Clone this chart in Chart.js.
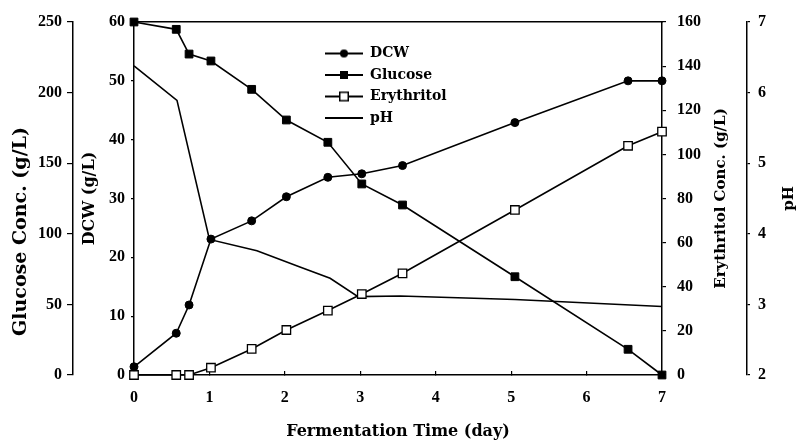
<!DOCTYPE html>
<html>
<head>
<meta charset="utf-8">
<script src="https://cdn.jsdelivr.net/npm/chart.js@4.4.1/dist/chart.umd.min.js"></script>
<style>
  html, body { margin: 0; padding: 0; background: #fff; }
  #wrap { width: 803px; height: 441px; }
</style>
</head>
<body>
<div id="wrap"><canvas id="fermChart"></canvas></div>
<script>
// sampling days and measured values
var days = [0, 0.56, 0.73, 1.02, 1.56, 2.02, 2.57, 3.02, 3.56, 5.05, 6.55, 7.0];
var dcw = [1.4, 7.1, 11.9, 23.1, 26.2, 30.3, 33.6, 34.2, 35.6, 42.9, 50.0, 50.0];
var glucose = [250, 244.8, 227.3, 222.4, 202.3, 180.6, 164.8, 135.3, 120.4, 69.6, 18.2, 0];
var erythritol = [0, 0, 0, 3.3, 11.8, 20.4, 29.2, 36.7, 46.1, 74.8, 103.9, 110.3];
var phDays = [0, 0.57, 1.0, 1.63, 2.2, 2.6, 2.97, 3.53, 5.05, 7.0];
var ph = [6.38, 5.89, 3.92, 3.76, 3.53, 3.37, 3.11, 3.12, 3.07, 2.97];
var seriesNames = ['DCW', 'Glucose', 'Erythritol', 'pH'];

function pairs(xs, ys) {
  var out = [];
  for (var i = 0; i < xs.length; i++) out.push({x: xs[i], y: ys[i]});
  return out;
}

// little legend samples: line with the marker in the middle
function legendIcon(kind) {
  var c = document.createElement('canvas');
  c.width = 38; c.height = 14;
  var g = c.getContext('2d');
  g.fillStyle = '#000';
  g.fillRect(0, 6, 38, 2);
  if (kind == 'circle') {
    g.beginPath(); g.arc(19, 7, 4, 0, Math.PI * 2); g.fill();
  } else if (kind == 'square') {
    g.fillRect(15, 3, 8, 8);
  } else if (kind == 'open') {
    g.fillRect(14, 2, 10, 10);
    g.fillStyle = '#fff';
    g.fillRect(15.5, 3.5, 7, 7);
  }
  return c;
}
var icons = [legendIcon('circle'), legendIcon('square'), legendIcon('open'), legendIcon('none')];

var tickFont = {family: 'Liberation Serif', size: 16, weight: 'bold'};
var titleFamily = 'DejaVu Serif';

// rotated axis titles (read bottom to top on every side)
var sideTitles = [
  {axis: 'yGlu', text: 'Glucose Conc. (g/L)', size: 19, from: 'left', off: 21, dy: 33},
  {axis: 'yEry', text: 'Erythritol Conc. (g/L)', size: 15, from: 'right', off: 26, dy: 0},
  {axis: 'yPh', text: 'pH', size: 15, from: 'right', off: 14, dy: 0}
];

var sideTitlePlugin = {
  id: 'sideTitles',
  afterLayout: function (chart) {
    // put legend inside the plot, upper middle
    var lg = chart.legend;
    var a = chart.chartArea;
    if (lg) {
      lg.left = a.left + 183.5;
      lg.top = a.top + 17;
      lg.right = lg.left + 160;
      lg.bottom = lg.top + 160;
    }
  },
  afterDraw: function (chart) {
    var ctx = chart.ctx;
    sideTitles.forEach(function (t) {
      var s = chart.scales[t.axis];
      var x = t.from == 'left' ? s.left + t.off : s.right - t.off;
      var y = (s.top + s.bottom) / 2 + t.dy;
      ctx.save();
      ctx.translate(x, y);
      ctx.rotate(-Math.PI / 2);
      ctx.font = 'bold ' + t.size + 'px "' + titleFamily + '"';
      ctx.fillStyle = '#000';
      ctx.textAlign = 'center';
      ctx.textBaseline = 'middle';
      ctx.fillText(t.text, 0, 0);
      ctx.restore();
    });
  }
};

Chart.defaults.font.family = 'Liberation Serif';
Chart.defaults.font.weight = 'bold';
Chart.defaults.font.size = 16;
Chart.defaults.color = '#000';

var lineStyle = {borderColor: '#000', borderWidth: 1.6, tension: 0, clip: false, fill: false};

var ctx = document.getElementById('fermChart').getContext('2d');
var fermChart = new Chart(ctx, {
  type: 'line',
  data: {
    datasets: [
      Object.assign({
        label: seriesNames[0], data: pairs(days, dcw), yAxisID: 'yDcw',
        pointStyle: 'circle', pointRadius: 4, pointBackgroundColor: '#000', pointBorderColor: '#000', pointBorderWidth: 1
      }, lineStyle),
      Object.assign({
        label: seriesNames[1], data: pairs(days, glucose), yAxisID: 'yGlu',
        pointStyle: 'rect', pointRadius: 5.5, pointBackgroundColor: '#000', pointBorderColor: '#000', pointBorderWidth: 1
      }, lineStyle),
      Object.assign({
        label: seriesNames[2], data: pairs(days, erythritol), yAxisID: 'yEry',
        pointStyle: 'rect', pointRadius: 6, pointBackgroundColor: '#fff', pointBorderColor: '#000', pointBorderWidth: 1.3
      }, lineStyle),
      Object.assign({
        label: seriesNames[3], data: pairs(phDays, ph), yAxisID: 'yPh',
        pointRadius: 0
      }, lineStyle)
    ]
  },
  options: {
    responsive: true,
    maintainAspectRatio: false,
    animation: false,
    layout: {padding: 0},
    plugins: {
      tooltip: {enabled: false},
      legend: {
        position: 'chartArea',
        align: 'start',
        labels: {
          usePointStyle: true,
          pointStyleWidth: 38,
          padding: 7.5,
          color: '#000',
          font: {family: titleFamily, size: 14, weight: 'bold'},
          generateLabels: function (chart) {
            return chart.data.datasets.map(function (ds, i) {
              return {text: ds.label, pointStyle: icons[i], fillStyle: '#000', strokeStyle: '#000',
                lineWidth: 0, hidden: false, datasetIndex: i, fontColor: '#000'};
            });
          }
        }
      }
    },
    scales: {
      x: {
        type: 'linear', position: 'bottom', min: 0, max: 7,
        ticks: {stepSize: 1, font: tickFont, padding: 17},
        grid: {drawOnChartArea: false, tickLength: -4, color: '#000', lineWidth: 1.2},
        border: {color: '#000', width: 1.5},
        title: {display: true, text: 'Fermentation Time (day)', font: {family: titleFamily, size: 16, weight: 'bold'}, padding: {top: 2, bottom: 0}},
        afterFit: function (s) { s.height = 66; }
      },
      xTop: {
        type: 'linear', position: 'top', min: 0, max: 7,
        ticks: {display: false},
        grid: {display: false},
        border: {color: '#000', width: 1.5},
        afterFit: function (s) { s.height = 22; }
      },
      yDcw: {
        type: 'linear', position: 'left', min: 0, max: 60,
        ticks: {stepSize: 10, font: tickFont, padding: 6},
        grid: {drawOnChartArea: false, tickLength: 3, color: '#000', lineWidth: 1.2},
        border: {color: '#000', width: 1.5},
        title: {display: true, text: 'DCW (g/L)', font: {family: titleFamily, size: 16, weight: 'bold'}, padding: {top: 7, bottom: 0}},
        afterFit: function (s) { s.width = 61; }
      },
      yGlu: {
        type: 'linear', position: 'left', min: 0, max: 250,
        ticks: {stepSize: 50, font: tickFont, padding: 5},
        grid: {drawOnChartArea: false, tickLength: 6, color: '#000', lineWidth: 1.2},
        border: {color: '#000', width: 1.5},
        afterFit: function (s) { s.width = 73; }
      },
      yEry: {
        type: 'linear', position: 'right', min: 0, max: 160,
        ticks: {stepSize: 20, font: tickFont, padding: 11},
        grid: {drawOnChartArea: false, tickLength: 4, color: '#000', lineWidth: 1.2},
        border: {color: '#000', width: 1.5},
        afterFit: function (s) { s.width = 85; }
      },
      yPh: {
        type: 'linear', position: 'right', min: 2, max: 7,
        ticks: {stepSize: 1, font: tickFont, padding: 8},
        grid: {drawOnChartArea: false, tickLength: 3, color: '#000', lineWidth: 1.2},
        border: {color: '#000', width: 1.5},
        afterFit: function (s) { s.width = 56; }
      }
    }
  },
  plugins: [sideTitlePlugin]
});
</script>
</body>
</html>
